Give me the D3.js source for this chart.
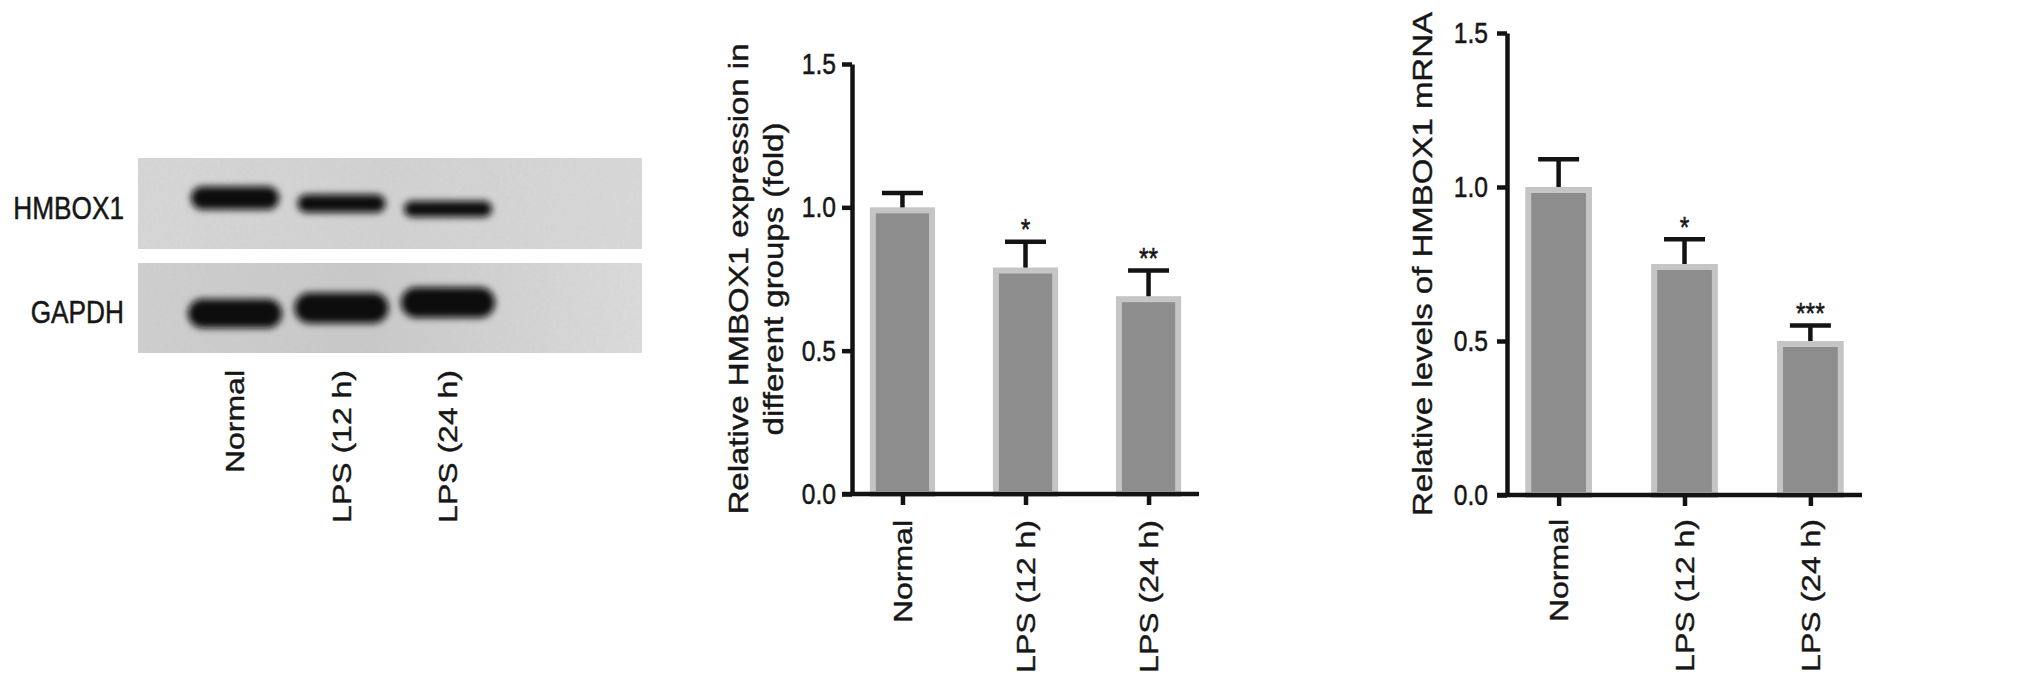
<!DOCTYPE html>
<html>
<head>
<meta charset="utf-8">
<script src="https://cdn.jsdelivr.net/npm/d3@7"></script>
<style>
body { margin: 0; background: #fff; }
svg text { font-family: "Liberation Sans", Arial, Helvetica, sans-serif; fill: #161616; stroke: #161616; stroke-width: 0.5px; }
</style>
</head>
<body>
<svg id="chart"></svg>
<script>
const svgWidth = 2032, svgHeight = 689;

// data
const groups = ["Normal", "LPS (12 h)", "LPS (24 h)"];
const yTicks = [0, 0.5, 1.0, 1.5];
const proteinMean = [1.0, 0.79, 0.69];
const proteinSD = [0.05, 0.09, 0.09];
const proteinStars = ["", "*", "**"];
const mrnaMean = [1.0, 0.75, 0.50];
const mrnaSD = [0.09, 0.08, 0.05];
const mrnaStars = ["", "*", "***"];
const blotRows = ["HMBOX1", "GAPDH"];
const gapdhLevel = [1.0, 1.05, 1.05];

// the original figure is squeezed horizontally
const sx = 0.82;
const ink = "#131313";

const svg = d3.select("#chart")
    .attr("width", svgWidth)
    .attr("height", svgHeight);

svg.append("rect").attr("width", svgWidth).attr("height", svgHeight).attr("fill", "#fff");

const defs = svg.append("defs");
defs.append("filter").attr("id", "blur").attr("x", "-30%").attr("y", "-80%").attr("width", "160%").attr("height", "260%")
    .append("feGaussianBlur").attr("stdDeviation", 3.8);

const noise = defs.append("filter").attr("id", "grain");
noise.append("feTurbulence").attr("type", "fractalNoise").attr("baseFrequency", 0.3).attr("numOctaves", 2).attr("result", "n");
noise.append("feColorMatrix").attr("in", "n").attr("type", "matrix")
    .attr("values", "0 0 0 0 0.45  0 0 0 0 0.45  0 0 0 0 0.45  0 0 0 0.18 0").attr("result", "g");
noise.append("feComposite").attr("in", "g").attr("in2", "SourceGraphic").attr("operator", "in").attr("result", "gi");
const merge = noise.append("feMerge");
merge.append("feMergeNode").attr("in", "SourceGraphic");
merge.append("feMergeNode").attr("in", "gi");

function gradient(id, stops) {
    var lg = defs.append("linearGradient").attr("id", id);
    stops.forEach(function(s) {
        lg.append("stop").attr("offset", s[0]).attr("stop-color", s[1]);
    });
}
gradient("bgTop", [["0%", "#d8d8d8"], ["50%", "#d3d3d3"], ["100%", "#dadada"]]);
gradient("bgBottom", [["0%", "#d0d0d0"], ["45%", "#cacaca"], ["100%", "#dddddd"]]);

function squeeze(x, y, rotate) {
    return "translate(" + x + "," + y + ") scale(" + sx + ",1)" + (rotate ? " rotate(-90)" : "");
}

// ---------- western blot ----------
const blot = {x0: 138, x1: 642, rows: [{y0: 158, y1: 249}, {y0: 263, y1: 353}]};
const laneScale = d3.scalePoint().domain(groups).range([235, 448]);
const blotFill = ["url(#bgTop)", "url(#bgBottom)"];
const bandStyle = [
    {w: 88, h: 23, tilt: 5.5, level: proteinMean},
    {w: 94, h: 29, tilt: -5.5, level: gapdhLevel}
];

const blotG = svg.append("g");
blot.rows.forEach(function(r, ri) {
    blotG.append("rect")
        .attr("x", blot.x0).attr("y", r.y0)
        .attr("width", blot.x1 - blot.x0).attr("height", r.y1 - r.y0)
        .attr("fill", blotFill[ri])
        .attr("filter", "url(#grain)");

    var mid = (r.y0 + r.y1) / 2;
    var st = bandStyle[ri];
    blotG.append("g").attr("filter", "url(#blur)")
        .selectAll("rect")
        .data(groups)
        .enter()
        .append("rect")
        .attr("x", function(d) { return laneScale(d) - st.w / 2; })
        .attr("y", function(d, i) { return mid + st.tilt * (i - 1) - st.h * st.level[i] / 2; })
        .attr("width", st.w)
        .attr("height", function(d, i) { return st.h * st.level[i]; })
        .attr("rx", function(d, i) { return st.h * st.level[i] / 2; })
        .attr("fill", "#080808");

    blotG.append("text")
        .attr("transform", squeeze(124, mid + 3.5))
        .attr("dy", "0.36em")
        .attr("text-anchor", "end")
        .style("font-size", "32px")
        .text(blotRows[ri]);
});

blotG.selectAll(".lane")
    .data(groups)
    .enter()
    .append("text")
    .attr("class", "lane")
    .attr("transform", function(d) { return squeeze(laneScale(d), 370, true); })
    .attr("dy", "0.35em")
    .attr("text-anchor", "end")
    .style("font-size", "32px")
    .text(function(d) { return d; });

// ---------- bar charts ----------
function drawBars(o) {
    var g = svg.append("g");
    var yScale = d3.scaleLinear().domain([0, 1.5]).range([o.yBottom, o.yTop]);
    var xScale = d3.scalePoint().domain(groups).range([o.x0, o.x1]).padding(0.41);
    var bw = xScale.step() * 0.53;

    var rows = groups.map(function(name, i) {
        return {name: name, mean: o.mean[i], sd: o.sd[i], star: o.stars[i]};
    });

    // error bars (upper only)
    var eb = g.append("g").selectAll("g").data(rows).enter().append("g");
    eb.append("line")
        .attr("x1", function(d) { return xScale(d.name); })
        .attr("x2", function(d) { return xScale(d.name); })
        .attr("y1", function(d) { return yScale(d.mean) + 3; })
        .attr("y2", function(d) { return yScale(d.mean + d.sd); })
        .attr("stroke", ink).attr("stroke-width", 4.5);
    eb.append("line")
        .attr("x1", function(d) { return xScale(d.name) - 20.5; })
        .attr("x2", function(d) { return xScale(d.name) + 20.5; })
        .attr("y1", function(d) { return yScale(d.mean + d.sd); })
        .attr("y2", function(d) { return yScale(d.mean + d.sd); })
        .attr("stroke", ink).attr("stroke-width", 4.5);

    g.append("g").selectAll("rect").data(rows).enter().append("rect")
        .attr("x", function(d) { return xScale(d.name) - bw / 2 + 3; })
        .attr("y", function(d) { return yScale(d.mean) + 3; })
        .attr("width", bw - 6)
        .attr("height", function(d) { return yScale(0) - yScale(d.mean) - 3; })
        .attr("fill", "#8d8d8d")
        .attr("stroke", "#c5c5c5")
        .attr("stroke-width", 6);

    g.append("g").selectAll("text").data(rows).enter().append("text")
        .attr("transform", function(d) { return squeeze(xScale(d.name), yScale(d.mean + d.sd) - 20); })
        .attr("dy", "0.58em")
        .attr("text-anchor", "middle")
        .style("font-size", "30px")
        .text(function(d) { return d.star; });

    // y axis
    var yAxis = d3.axisLeft(yScale)
        .tickValues(yTicks)
        .tickFormat(d3.format(".1f"))
        .tickSize(10)
        .tickSizeOuter(0)
        .tickPadding(o.tickPad);
    var ya = g.append("g").attr("transform", "translate(" + o.x0 + ",0)").call(yAxis);
    ya.select(".domain").attr("stroke", ink).attr("stroke-width", 4.5);
    ya.selectAll(".tick line").attr("stroke", ink).attr("stroke-width", 4.5);
    ya.selectAll(".tick text")
        .attr("fill", null)
        .style("font-size", "30px")
        .attr("transform", function() { return squeeze(+d3.select(this).attr("x"), 0); })
        .attr("x", 0);

    // x axis
    var xAxis = d3.axisBottom(xScale).tickSize(11).tickSizeOuter(0);
    var xa = g.append("g").attr("transform", "translate(0," + yScale(0) + ")").call(xAxis);
    xa.select(".domain").remove();
    xa.append("line")
        .attr("x1", o.x0 - 10).attr("x2", o.x1)
        .attr("stroke", ink).attr("stroke-width", 4.5);
    xa.selectAll(".tick line").attr("stroke", ink).attr("stroke-width", 4.5);
    xa.selectAll(".tick text")
        .attr("fill", null)
        .style("font-size", "32px")
        .attr("y", 0)
        .attr("transform", squeeze(0, o.labelGap, true))
        .attr("dy", "0.35em")
        .attr("text-anchor", "end");

    // y title
    var title = g.append("text")
        .attr("transform", squeeze(o.titleX, (o.yTop + o.yBottom) / 2, true))
        .attr("text-anchor", "middle")
        .style("font-size", "33px");
    o.title.forEach(function(line, i) {
        title.append("tspan").attr("x", 0).attr("dy", i == 0 ? 0 : "1.3em").text(line);
    });
}

drawBars({
    x0: 852, x1: 1199, yTop: 64, yBottom: 494,
    mean: proteinMean, sd: proteinSD, stars: proteinStars,
    tickPad: 6, labelGap: 26, titleX: 748,
    title: ["Relative HMBOX1 expression in", "different groups (fold)"]
});

drawBars({
    x0: 1507, x1: 1862, yTop: 33, yBottom: 495,
    mean: mrnaMean, sd: mrnaSD, stars: mrnaStars,
    tickPad: 9, labelGap: 24, titleX: 1432,
    title: ["Relative levels of HMBOX1 mRNA"]
});
</script>
</body>
</html>
